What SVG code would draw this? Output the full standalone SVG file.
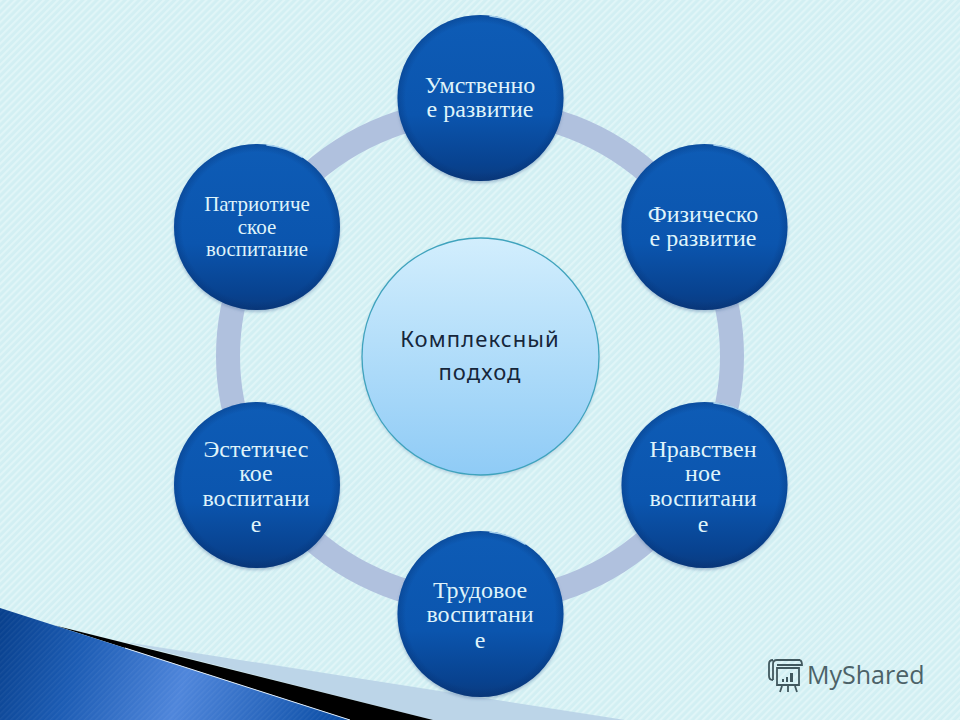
<svg xmlns="http://www.w3.org/2000/svg" width="960" height="720" viewBox="0 0 960 720">
<defs>
<pattern id="stripes" width="5" height="5" patternUnits="userSpaceOnUse" patternTransform="rotate(45)">
<rect width="5" height="5" fill="#d2eff3"/><rect width="2.200" height="5" fill="#e0f5f7"/>
</pattern>
<pattern id="bluestripes" width="4" height="4" patternUnits="userSpaceOnUse" patternTransform="rotate(45)">
<rect width="1.400" height="4" fill="#ffffff" fill-opacity="0.05"/>
</pattern>
<linearGradient id="blue" x1="0" y1="0" x2="0" y2="1">
<stop offset="0" stop-color="#0e5cb6"/><stop offset="0.6" stop-color="#0b55ae"/><stop offset="0.9" stop-color="#08428f"/><stop offset="1" stop-color="#0a3b80"/>
</linearGradient>
<linearGradient id="center" x1="0" y1="0" x2="0" y2="1">
<stop offset="0" stop-color="#d2eefd"/><stop offset="1" stop-color="#8fcbf6"/>
</linearGradient>
<linearGradient id="swoosh" gradientUnits="userSpaceOnUse" x1="0" y1="610" x2="340" y2="720">
<stop offset="0" stop-color="#073f8c"/><stop offset="0.25" stop-color="#1c5cb4"/><stop offset="0.55" stop-color="#4f86db"/><stop offset="1" stop-color="#0b4ea6"/>
</linearGradient>
<radialGradient id="edge" cx="0.5" cy="0.5" r="0.5">
<stop offset="0.9" stop-color="#052a66" stop-opacity="0"/><stop offset="1" stop-color="#052a66" stop-opacity="0.3"/>
</radialGradient>
<filter id="soft" x="-20%" y="-20%" width="140%" height="140%"><feGaussianBlur stdDeviation="1.600"/></filter>
<style>
.node{fill:url(#blue)}
.rim{fill:url(#edge)}
.shadow{fill:#5e7fa8;fill-opacity:.45;filter:url(#soft)}
.hl{fill:none;stroke:#bfe6fb;stroke-width:1.600;stroke-linecap:round;stroke-opacity:.85}
.t{font-family:"Liberation Serif",serif;fill:#dff3fa;text-anchor:middle}
.t24{font-size:24px}.t21{font-size:21px}
.c{font-family:"Noto Sans","DejaVu Sans",sans-serif;font-size:22px;fill:#16263a;text-anchor:middle;letter-spacing:1.100px}
</style>
</defs>
<rect id="background" width="960" height="720" fill="url(#stripes)"/>
<g id="decoration">
<path d="M125 642L625 720H433Z" fill="#bcd5e8"/>
<path d="M55 625.600L433 720H350Z" fill="#000"/>
<path d="M0 608L350 720H0Z" fill="url(#swoosh)"/>
<path d="M0 608L350 720H0Z" fill="url(#bluestripes)"/>
<path d="M125 648L350 720" fill="none" stroke="#dbe8f5" stroke-width="1"/>
</g>
<g id="connectors">
<ellipse cx="480" cy="356" rx="252" ry="246" fill="none" stroke="#b0c1de" stroke-width="24"/>
</g>
<g id="node-center">
<circle cx="480.500" cy="358" r="119" fill="#5e7fa8" fill-opacity=".3" filter="url(#soft)"/>
<circle cx="480.500" cy="356.500" r="118.500" fill="url(#center)" stroke="#3fa3bd" stroke-width="1.300"/>
<text class="c" x="480" y="347">Комплексный</text>
<text class="c" x="480" y="380">подход</text>
</g>
<g id="node-1">
<circle class="shadow" cx="480.500" cy="100" r="83"/><circle class="node" cx="480.500" cy="98" r="83"/><circle class="rim" cx="480.500" cy="98" r="83"/>
<path class="hl" d="M490 16A83 83 0 0 1 525 28"/>
<text class="t t24" x="480" y="93">Умственно</text><text class="t t24" x="480" y="117">е развитие</text>
</g>
<g id="node-2">
<circle class="shadow" cx="704.500" cy="229" r="83"/><circle class="node" cx="704.500" cy="227" r="83"/><circle class="rim" cx="704.500" cy="227" r="83"/>
<path class="hl" d="M714 145A83 83 0 0 1 749 157"/>
<text class="t t24" x="703" y="222">Физическо</text><text class="t t24" x="703" y="246">е развитие</text>
</g>
<g id="node-3">
<circle class="shadow" cx="704.500" cy="487" r="83"/><circle class="node" cx="704.500" cy="485" r="83"/><circle class="rim" cx="704.500" cy="485" r="83"/>
<path class="hl" d="M714 403A83 83 0 0 1 749 415"/>
<text class="t t24" x="703" y="457">Нравствен</text><text class="t t24" x="703" y="481">ное</text><text class="t t24" x="703" y="506">воспитани</text><text class="t t24" x="703" y="532">е</text>
</g>
<g id="node-4">
<circle class="shadow" cx="480.500" cy="616" r="83"/><circle class="node" cx="480.500" cy="614" r="83"/><circle class="rim" cx="480.500" cy="614" r="83"/>
<path class="hl" d="M490 532A83 83 0 0 1 525 544"/>
<text class="t t24" x="480" y="598">Трудовое</text><text class="t t24" x="480" y="622">воспитани</text><text class="t t24" x="480" y="648">е</text>
</g>
<g id="node-5">
<circle class="shadow" cx="257" cy="487" r="83"/><circle class="node" cx="257" cy="485" r="83"/><circle class="rim" cx="257" cy="485" r="83"/>
<path class="hl" d="M267 403A83 83 0 0 1 302 415"/>
<text class="t t24" x="256" y="457">Эстетичес</text><text class="t t24" x="256" y="481">кое</text><text class="t t24" x="256" y="506">воспитани</text><text class="t t24" x="256" y="532">е</text>
</g>
<g id="node-6">
<circle class="shadow" cx="257" cy="229" r="83"/><circle class="node" cx="257" cy="227" r="83"/><circle class="rim" cx="257" cy="227" r="83"/>
<path class="hl" d="M267 145A83 83 0 0 1 302 157"/>
<text class="t t21" x="257" y="211">Патриотиче</text><text class="t t21" x="257" y="234">ское</text><text class="t t21" x="257" y="256" textLength="102" lengthAdjust="spacingAndGlyphs">воспитание</text>
</g>
<g id="logo">
<g fill="none" stroke="#41585e" stroke-width="1.800">
<path d="M773 680V664Q773 660 777 660H800M773 680Q769 680 769 676V664Q769 660 773 660M777 668H799V685H777ZM800 660Q802 661 802 665H777"/>
<path d="M782 686L780 692M788 686V692M795 686L797 692"/>
</g>
<path d="M782 679h2v3h-2zM786 677h2v5h-2zM790 673h3v9h-3z" fill="#41585e"/>
<text x="807" y="684" font-family="'Open Sans','Noto Sans',sans-serif" font-size="25" fill="#4c6268">MyShared</text>
</g>
</svg>
